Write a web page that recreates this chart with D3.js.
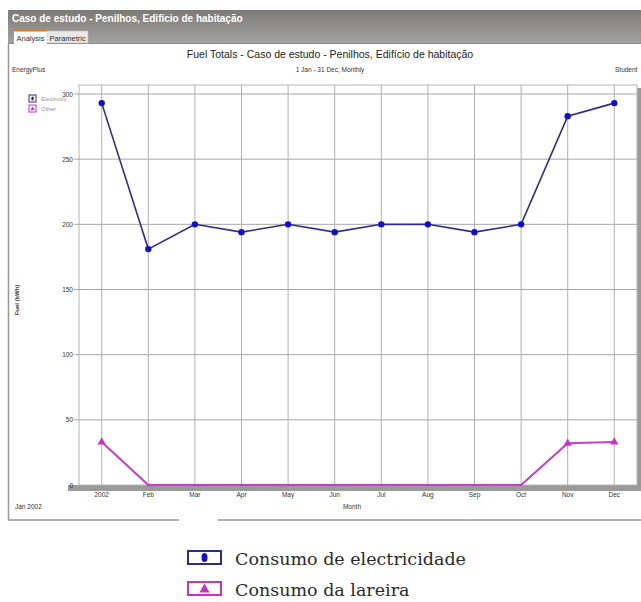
<!DOCTYPE html>
<html>
<head>
<meta charset="utf-8">
<script src="https://cdn.jsdelivr.net/npm/d3@7"></script>
<style>
  body { margin: 0; background: #fff; }
  svg { display: block; }
</style>
</head>
<body>
<div id="chart"></div>
<script>
// data
const months = ["2002", "Feb", "Mar", "Apr", "May", "Jun", "Jul", "Aug", "Sep", "Oct", "Nov", "Dec"];
const electricity = [293, 181, 200, 194, 200, 194, 200, 200, 194, 200, 283, 293];
const other = [33, 0, 0, 0, 0, 0, 0, 0, 0, 0, 32, 33];
const yTicks = [0, 50, 100, 150, 200, 250, 300];
const legendLabels = ["Electricity", "Other"];
const bottomLegend = ["Consumo de electricidade", "Consumo da lareira"];

const W = 641, H = 602;
const plot = {left: 79, right: 637, top: 85, bottom: 485};

const svg = d3.select("#chart").append("svg")
    .attr("width", W)
    .attr("height", H)
    .attr("font-family", "Liberation Sans, Arial, sans-serif");

// window header
const grad = svg.append("defs").append("linearGradient")
    .attr("id", "hdr").attr("x1", 0).attr("y1", 0).attr("x2", 0).attr("y2", 1);
grad.append("stop").attr("offset", "0%").attr("stop-color", "#7d7a74");
grad.append("stop").attr("offset", "100%").attr("stop-color", "#a3a3a3");
svg.append("rect").attr("x", 8).attr("y", 10).attr("width", W - 8).attr("height", 34)
    .attr("fill", "url(#hdr)");
svg.append("line").attr("x1", 8).attr("x2", W).attr("y1", 43.5).attr("y2", 43.5)
    .attr("stroke", "#8a8a8a");
svg.append("text").attr("x", 12).attr("y", 22)
    .attr("fill", "#fff").attr("font-size", 10).attr("font-weight", "bold")
    .text("Caso de estudo - Penilhos, Edifício de habitação");

// tabs
svg.append("rect").attr("x", 14).attr("y", 31).attr("width", 33).attr("height", 13).attr("fill", "#fff");
svg.append("rect").attr("x", 14).attr("y", 30).attr("width", 33).attr("height", 1.5).attr("fill", "#e2781e");
svg.append("rect").attr("x", 47).attr("y", 31).attr("width", 41).attr("height", 12).attr("fill", "#e8e8e8")
    .attr("stroke", "#bbb").attr("stroke-width", 0.5);
svg.append("text").attr("x", 16.5).attr("y", 40.5).attr("font-size", 7.5).attr("fill", "#333").text("Analysis");
svg.append("text").attr("x", 49.5).attr("y", 40.5).attr("font-size", 7.5).attr("fill", "#333").text("Parametric");

// window frame
svg.append("line").attr("x1", 8.5).attr("x2", 8.5).attr("y1", 44).attr("y2", 520)
    .attr("stroke", "#999").attr("stroke-width", 1.5);
svg.append("line").attr("x1", 8).attr("x2", 179).attr("y1", 520).attr("y2", 520)
    .attr("stroke", "#999").attr("stroke-width", 1.5);
svg.append("line").attr("x1", 218).attr("x2", W).attr("y1", 520).attr("y2", 520)
    .attr("stroke", "#999").attr("stroke-width", 1.5);

// titles
svg.append("text").attr("x", 330).attr("y", 58).attr("text-anchor", "middle")
    .attr("font-size", 10.5).attr("fill", "#222")
    .text("Fuel Totals - Caso de estudo - Penilhos, Edifício de habitação");
svg.append("text").attr("x", 330).attr("y", 72).attr("text-anchor", "middle")
    .attr("font-size", 6.5).attr("fill", "#333").text("1 Jan - 31 Dec, Monthly");
svg.append("text").attr("x", 12).attr("y", 72)
    .attr("font-size", 6.5).attr("fill", "#333").text("EnergyPlus");
svg.append("text").attr("x", 615).attr("y", 72)
    .attr("font-size", 6.5).attr("fill", "#333").text("Student");

// scales
const x = d3.scalePoint().domain(months).range([101.7, 614.3]);
const y = d3.scaleLinear().domain([0, 300]).range([plot.bottom, 94]);

// shadow
svg.append("rect").attr("x", 68).attr("y", plot.bottom).attr("width", W - 68).attr("height", 6)
    .attr("fill", "#9a9a9a");
svg.append("rect").attr("x", plot.right).attr("y", 88).attr("width", W - plot.right).attr("height", plot.bottom - 88 + 6)
    .attr("fill", "#9a9a9a");

// plot area
svg.append("rect").attr("x", plot.left).attr("y", plot.top)
    .attr("width", plot.right - plot.left).attr("height", plot.bottom - plot.top)
    .attr("fill", "#fff").attr("stroke", "#b5b5b5");

// grid
svg.append("g").selectAll("line").data(yTicks.filter(d => d > 0)).join("line")
    .attr("x1", plot.left - 5).attr("x2", plot.right)
    .attr("y1", d => y(d)).attr("y2", d => y(d))
    .attr("stroke", "#a8a8a8");
svg.append("g").selectAll("line").data(months).join("line")
    .attr("x1", d => x(d)).attr("x2", d => x(d))
    .attr("y1", plot.top).attr("y2", plot.bottom)
    .attr("stroke", "#b0b0b0");

// y axis labels
svg.append("g").selectAll("text").data(yTicks).join("text")
    .attr("x", 73).attr("y", d => y(d) + 2.5)
    .attr("text-anchor", "end").attr("font-size", 6.5).attr("fill", "#333")
    .text(d => d);
svg.append("text")
    .attr("transform", "translate(19,300) rotate(-90)")
    .attr("text-anchor", "middle").attr("font-size", 6).attr("font-weight", "bold").attr("fill", "#333")
    .text("Fuel (kWh)");

// x axis labels
svg.append("g").selectAll("text").data(months).join("text")
    .attr("x", d => x(d)).attr("y", 497)
    .attr("text-anchor", "middle").attr("font-size", 6.5).attr("fill", "#333")
    .text(d => d);
svg.append("text").attr("x", 352).attr("y", 509).attr("text-anchor", "middle")
    .attr("font-size", 6.5).attr("fill", "#333").text("Month");
svg.append("text").attr("x", 15).attr("y", 509)
    .attr("font-size", 6.5).attr("fill", "#333").text("Jan 2002");

// lines
const line = d3.line().x((d, i) => x(months[i])).y(d => y(d));
svg.append("path").datum(other)
    .attr("fill", "none").attr("stroke", "#c63fc6").attr("stroke-width", 2)
    .attr("d", line);
svg.append("path").datum(electricity)
    .attr("fill", "none").attr("stroke", "#2c2c8c").attr("stroke-width", 1.6)
    .attr("d", line);

// markers
svg.append("g").selectAll("circle").data(electricity).join("circle")
    .attr("cx", (d, i) => x(months[i])).attr("cy", d => y(d))
    .attr("r", 3.2).attr("fill", "#1010c8");
const tri = d3.symbol().type(d3.symbolTriangle).size(30);
svg.append("g").selectAll("path").data(other).join("path")
    .attr("transform", (d, i) => `translate(${x(months[i])},${y(d)})`)
    .attr("d", d => d > 0 ? tri() : null)
    .attr("fill", "#cc30cc");
svg.append("g").selectAll("circle").data(other).join("circle")
    .filter(d => d === 0)
    .attr("cx", (d, i) => x(months[i + 1])).attr("cy", d => y(d))
    .attr("r", 1).attr("fill", "#cc30cc");

// legend inside plot
const legColors = ["#2c2c8c", "#cc30cc"];
const leg = svg.append("g");
legendLabels.forEach((lab, i) => {
  const ly = 95 + i * 10;
  leg.append("rect").attr("x", 29).attr("y", ly).attr("width", 7).attr("height", 7)
      .attr("fill", "#fff").attr("stroke", legColors[i]).attr("stroke-width", 1);
  if (i === 0) {
    leg.append("ellipse").attr("cx", 32.5).attr("cy", ly + 3.5).attr("rx", 1.2).attr("ry", 2)
        .attr("fill", "#1010c8");
  } else {
    leg.append("path").attr("transform", `translate(32.5,${ly + 4})`)
        .attr("d", d3.symbol().type(d3.symbolTriangle).size(8)()).attr("fill", "#cc30cc");
  }
  leg.append("text").attr("x", 41).attr("y", ly + 6)
      .attr("font-size", 6).attr("fill", "#999").text(lab);
});

// bottom legend
const bl = svg.append("g").attr("font-family", "DejaVu Serif, Liberation Serif, serif");
bottomLegend.forEach((lab, i) => {
  const by = 551 + i * 31;
  bl.append("rect").attr("x", 188).attr("y", by).attr("width", 33).attr("height", 13)
      .attr("fill", "#fff").attr("stroke", legColors[i]).attr("stroke-width", 2);
  if (i === 0) {
    bl.append("ellipse").attr("cx", 204.5).attr("cy", by + 6.5).attr("rx", 3).attr("ry", 4.5)
        .attr("fill", "#1010c8");
  } else {
    bl.append("path").attr("transform", `translate(204.5,${by + 7.5})`)
        .attr("d", d3.symbol().type(d3.symbolTriangle).size(45)()).attr("fill", "#cc30cc");
  }
  bl.append("text").attr("x", 235).attr("y", by + 14)
      .attr("font-size", 17.5).attr("fill", "#2a2a2a").text(lab);
});
</script>
</body>
</html>
